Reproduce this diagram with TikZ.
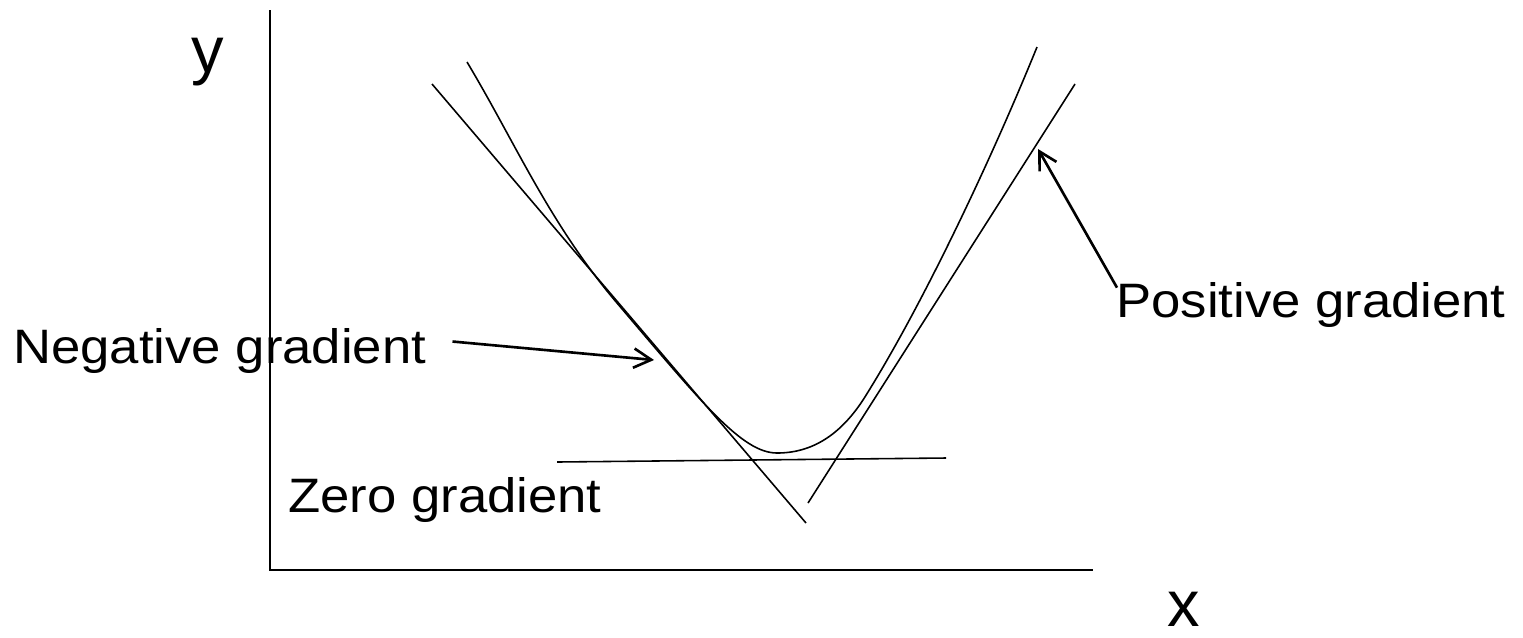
\documentclass[tikz,border=0pt]{standalone}
\usepackage{fontspec}
\setmainfont{Liberation Sans}
\newfontfamily\gradfont[FakeStretch=1.09]{Liberation Sans}
\usetikzlibrary{arrows.meta,calc}

\begin{document}
\begin{tikzpicture}[
  x=0.02cm, y=-0.02cm,
  thinline/.style={line width=0.9pt},
  pointer/.style={-{Straight Barb[length=10pt, width=11pt]}, line width=1.5pt},
  gradlabel/.style={font={\gradfont\fontsize{27.5}{30}\selectfont}, inner sep=0pt, anchor=base west},
  axislabel/.style={font={\fontsize{37}{40}\selectfont}, inner sep=0pt, anchor=base west}
]
\useasboundingbox (0,0) rectangle (1523,637);

% axes
\coordinate (origin) at (270,570);
\draw[thinline] (270,10) -- (origin) -- (1093,570);
\node[axislabel] (ylabel) at (191,72) {y};
\node[axislabel] (xlabel) at (1167,626) {x};

% the curve, vertex at (777,453)
\coordinate (vertex) at (777,453);
\draw[thinline] (467,62) .. controls (515,142) and (549,223) .. (617,303)
  .. controls (702,403) and (742,453) .. (vertex)
  .. controls (812,453) and (840,435) .. (863,400)
  .. controls (920,310) and (989,165) .. (1037,47);

% tangents
\draw[thinline] (432,84) -- (806,523);
\draw[thinline] (808,503) -- (1075,84);
\draw[thinline] (557,462) -- (946,458);

% labels and pointers
\node[gradlabel] (neglabel) at (13,363) {Negative gradient};
\node[gradlabel] (poslabel) at (1116,317) {Positive gradient};
\node[gradlabel] (zerolabel) at (288,512) {Zero gradient};

\coordinate (negtip) at (654,360);
\coordinate (postip) at (1038,149);
\draw[pointer] ($(neglabel.east)+(26,-9)$) -- (negtip);
\draw[pointer] ($(poslabel.north west)+(1,6)$) -- (postip);

\end{tikzpicture}
\end{document}
